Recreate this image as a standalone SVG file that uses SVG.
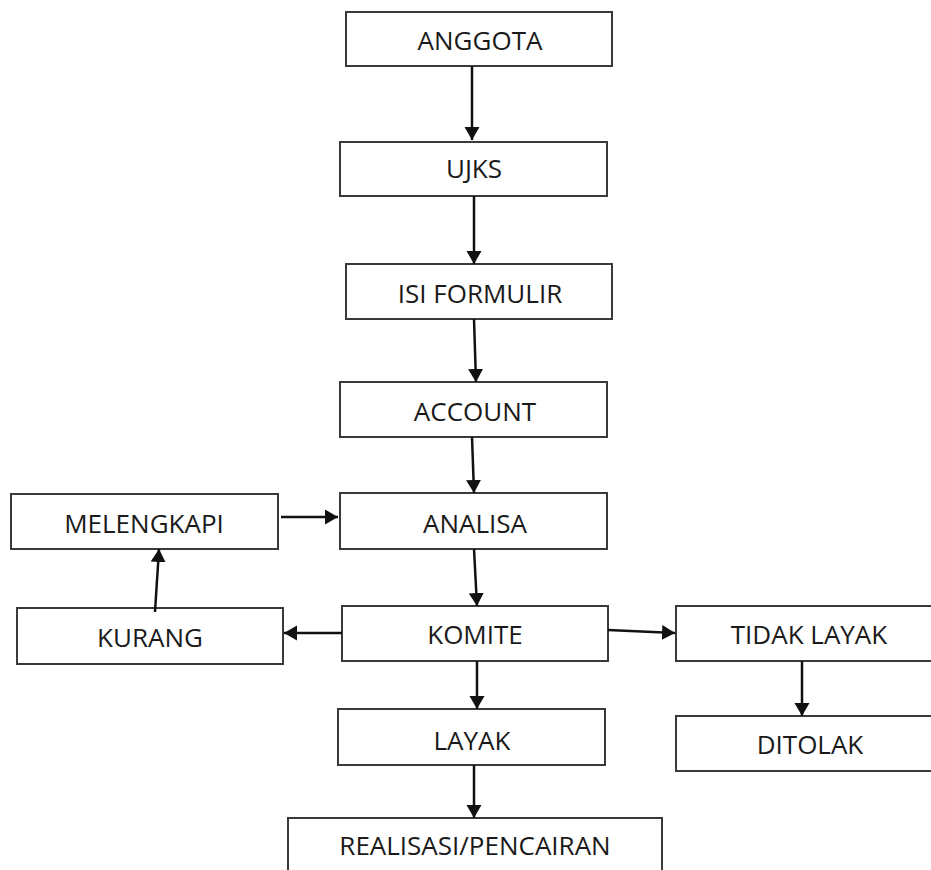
<svg xmlns="http://www.w3.org/2000/svg" width="931" height="870" viewBox="0 0 931 870">
<style>
.box{fill:#fff;stroke:#3a3a3a;stroke-width:2}
.lbl{font-family:"Open Sans","Liberation Sans",sans-serif;font-size:26px;fill:#1a1a1a;text-anchor:middle}
.con{stroke:#111;stroke-width:2.5;fill:none;marker-end:url(#ah)}
</style>
<defs>
<marker id="ah" markerUnits="userSpaceOnUse" markerWidth="14" markerHeight="16" refX="13" refY="7.5" orient="auto">
<path d="M0,0 L13,7.5 L0,15 z" fill="#111"/>
</marker>
</defs>
<rect width="931" height="870" fill="#fff"/>
<g id="anggota"><rect class="box" x="346" y="12" width="266" height="54"/><text class="lbl" x="480" y="50">ANGGOTA</text></g>
<g id="ujks"><rect class="box" x="340" y="142" width="267" height="54"/><text class="lbl" x="474" y="178">UJKS</text></g>
<g id="isi"><rect class="box" x="346" y="264" width="266" height="55"/><text class="lbl" x="480" y="303">ISI FORMULIR</text></g>
<g id="account"><rect class="box" x="340" y="382" width="267" height="55"/><text class="lbl" x="475" y="421">ACCOUNT</text></g>
<g id="melengkapi"><rect class="box" x="11" y="494" width="267" height="55"/><text class="lbl" x="144" y="533">MELENGKAPI</text></g>
<g id="analisa"><rect class="box" x="340" y="493" width="267" height="56"/><text class="lbl" x="475" y="533">ANALISA</text></g>
<g id="kurang"><rect class="box" x="17" y="608" width="266" height="56"/><text class="lbl" x="150" y="647">KURANG</text></g>
<g id="komite"><rect class="box" x="342" y="606" width="266" height="55"/><text class="lbl" x="475" y="644">KOMITE</text></g>
<g id="tidaklayak"><rect class="box" x="676" y="606" width="268" height="55"/><text class="lbl" x="809" y="644">TIDAK LAYAK</text></g>
<g id="layak"><rect class="box" x="338" y="709" width="267" height="56"/><text class="lbl" x="472" y="750">LAYAK</text></g>
<g id="ditolak"><rect class="box" x="676" y="716" width="268" height="55"/><text class="lbl" x="810" y="754">DITOLAK</text></g>
<g id="realisasi"><rect class="box" x="288" y="818" width="374" height="70"/><text class="lbl" x="475" y="855">REALISASI/PENCAIRAN</text></g>
<g id="connectors">
<line class="con" x1="472" y1="66" x2="472" y2="140"/>
<line class="con" x1="474" y1="196" x2="474" y2="264"/>
<line class="con" x1="474" y1="319" x2="476" y2="382"/>
<line class="con" x1="472" y1="437" x2="474" y2="493"/>
<line class="con" x1="281" y1="517" x2="338" y2="517"/>
<line class="con" x1="155" y1="612" x2="159" y2="549"/>
<line class="con" x1="474" y1="549" x2="477" y2="606"/>
<line class="con" x1="342" y1="633" x2="284" y2="633"/>
<line class="con" x1="608" y1="630" x2="675" y2="633"/>
<line class="con" x1="802" y1="661" x2="802" y2="716"/>
<line class="con" x1="477" y1="661" x2="477" y2="709"/>
<line class="con" x1="474" y1="765" x2="474" y2="818"/>
</g>
</svg>
